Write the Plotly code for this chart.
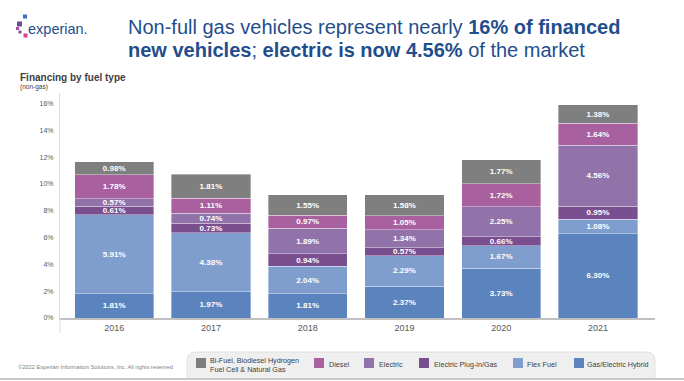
import plotly.graph_objects as go

years = ["2016", "2017", "2018", "2019", "2020", "2021"]
hybrid = [1.81, 1.97, 1.81, 2.37, 3.73, 6.30]
flex_fuel = [5.91, 4.38, 2.04, 2.29, 1.67, 1.08]
plug_in = [0.61, 0.73, 0.94, 0.57, 0.66, 0.95]
electric = [0.57, 0.74, 1.89, 1.34, 2.25, 4.56]
diesel = [1.78, 1.11, 0.97, 1.05, 1.72, 1.64]
bi_fuel = [0.98, 1.81, 1.55, 1.58, 1.77, 1.38]
y_ticks = [0, 2, 4, 6, 8, 10, 12, 14, 16]
y_tick_labels = [f"{v}%" for v in y_ticks]

series = [
    ("Gas/Electric Hybrid", hybrid, "#5b84bf"),
    ("Flex Fuel", flex_fuel, "#7f9ecd"),
    ("Electric Plug-in/Gas", plug_in, "#7a4f90"),
    ("Electric", electric, "#9173a9"),
    ("Diesel", diesel, "#a9609e"),
    ("Bi-Fuel, Biodiesel Hydrogen<br>Fuel Cell & Natural Gas", bi_fuel, "#7f7f80"),
]

FIG_W, FIG_H = 684, 381
L, R, T, B = 60, 655, 93, 318
W, H = R - L, B - T


def px(x):
    return (x - L) / W


def py(y):
    return (B - y) / H


FONT = "Liberation Sans, Arial, sans-serif"
fig = go.Figure()
for name, vals, color in series:
    fig.add_trace(go.Bar(
        x=years, y=vals, name=name,
        marker=dict(color=color, line=dict(color="rgba(255,255,255,0.45)", width=0.8)),
        texttemplate="<b>%{y:.2f}%</b>", textposition="inside",
        insidetextanchor="middle", textangle=0,
        textfont=dict(color="white", size=8, family=FONT),
        showlegend=False,
    ))

fig.update_layout(
    barmode="stack",
    bargap=0.18,
    width=FIG_W, height=FIG_H,
    margin=dict(l=L, r=FIG_W - R, t=T, b=FIG_H - B, pad=0),
    paper_bgcolor="white", plot_bgcolor="white",
    uniformtext=dict(minsize=8, mode="show"),
    font=dict(family=FONT),
    xaxis=dict(
        type="category", range=[-0.56, 5.59], showgrid=False,
        showline=True, linecolor="#c0c0c0", linewidth=1.5,
        ticks="", tickfont=dict(size=9, color="#595959"),
        fixedrange=True,
    ),
    yaxis=dict(
        range=[0, 16.79], tickvals=y_ticks, ticktext=y_tick_labels,
        showgrid=False, zeroline=False,
        showline=True, linecolor="#dadada", linewidth=1,
        ticks="", ticklabelstandoff=4,
        tickfont=dict(size=7, color="#595959"),
        fixedrange=True,
    ),
)

ann = []
shapes = []
# Title
ann.append(dict(x=px(126), y=py(27), xref="paper", yref="paper", xanchor="left", yanchor="middle",
                showarrow=False, align="left",
                text="Non-full gas vehicles represent nearly <b>16% of financed</b>",
                font=dict(size=20, color="#1f4e8c", family=FONT)))
ann.append(dict(x=px(126), y=py(50), xref="paper", yref="paper", xanchor="left", yanchor="middle",
                showarrow=False, align="left",
                text="<b>new vehicles</b>; <b>electric is now 4.56%</b> of the market",
                font=dict(size=20, color="#1f4e8c", family=FONT)))
# Logo
ann.append(dict(x=px(26), y=py(29), xref="paper", yref="paper", xanchor="left", yanchor="middle",
                showarrow=False, text="experian.", font=dict(size=14.5, color="#1f4e8c", family=FONT)))
for (cx, cy, s, c) in [(25, 16.5, 4, "#3b6fc4"), (19.5, 24, 5, "#6b4c9a"), (17.5, 28.5, 3, "#b04a9c"),
                       (20, 32, 3, "#8e4fa0"), (25.5, 35.5, 4, "#d8418f")]:
    shapes.append(dict(type="rect", xref="paper", yref="paper",
                       x0=px(cx - s / 2), x1=px(cx + s / 2), y0=py(cy + s / 2), y1=py(cy - s / 2),
                       fillcolor=c, line=dict(width=0)))
# Chart subtitle
ann.append(dict(x=px(18), y=py(77), xref="paper", yref="paper", xanchor="left", yanchor="middle",
                showarrow=False, text="<b>Financing by fuel type</b>",
                font=dict(size=10, color="#404040", family=FONT)))
ann.append(dict(x=px(18), y=py(87), xref="paper", yref="paper", xanchor="left", yanchor="middle",
                showarrow=False, text="(non-gas)", font=dict(size=6.5, color="#404040", family=FONT)))
# Copyright
ann.append(dict(x=px(16), y=py(367), xref="paper", yref="paper", xanchor="left", yanchor="middle",
                showarrow=False, text="©2022 Experian Information Solutions, Inc. All rights reserved",
                font=dict(size=5.7, color="#7f7f7f", family=FONT)))
# axis extension below baseline
shapes.append(dict(type="line", xref="paper", yref="paper", x0=0, x1=0, y0=py(318), y1=py(333),
                   line=dict(color="#dadada", width=1)))
# Legend box (rounded top corners)
bx0, bx1, by0, by1, rr = 187, 655, 352, 379, 9
path = (f"M {px(bx0)} {py(by1)} L {px(bx0)} {py(by0 + rr)} "
        f"Q {px(bx0)} {py(by0)} {px(bx0 + rr)} {py(by0)} "
        f"L {px(bx1 - rr)} {py(by0)} Q {px(bx1)} {py(by0)} {px(bx1)} {py(by0 + rr)} "
        f"L {px(bx1)} {py(by1)} Z")
shapes.append(dict(type="path", xref="paper", yref="paper", path=path,
                   fillcolor="#efefef", line=dict(color="#e0e0e0", width=1)))
# bottom rule
shapes.append(dict(type="line", xref="paper", yref="paper", x0=px(0), x1=px(684), y0=py(379), y1=py(379),
                   line=dict(color="#c8c8c8", width=2)))
# Legend entries
legend_pos = [
    (series[5], 196, 208),
    (series[4], 314, 327),
    (series[3], 364, 377),
    (series[2], 419, 432),
    (series[1], 513, 525),
    (series[0], 574, 585),
]
for (name, _, color), sx, tx in legend_pos:
    shapes.append(dict(type="rect", xref="paper", yref="paper",
                       x0=px(sx), x1=px(sx + 10), y0=py(368), y1=py(358),
                       fillcolor=color, line=dict(width=0)))
    lines = name.split("<br>")
    if len(lines) == 1:
        ys = [364.5]
    else:
        ys = [360.3, 369.3]
    for txt, yy in zip(lines, ys):
        ann.append(dict(x=px(tx), y=py(yy), xref="paper", yref="paper", xanchor="left", yanchor="middle",
                        showarrow=False, align="left", text=txt,
                        font=dict(size=7.2, color="#404040", family=FONT)))

fig.update_layout(annotations=ann, shapes=shapes)
fig.write_html("out.html", config={"displayModeBar": False},
               post_script="document.body.style.margin='0';document.body.style.overflow='hidden';")
